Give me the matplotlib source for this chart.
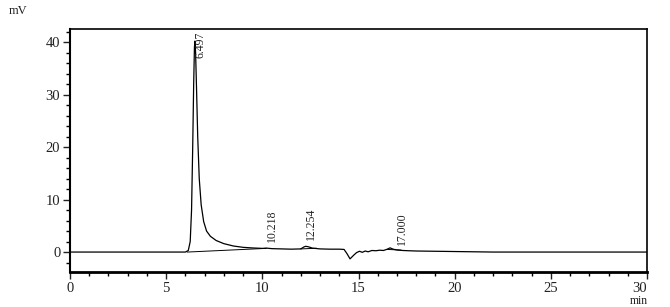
import matplotlib
matplotlib.use("Agg")
import matplotlib.pyplot as plt
from matplotlib.ticker import MultipleLocator

# Chromatogram signal (time in min, signal in mV)
time_min = [0.0, 6.0, 6.15, 6.25, 6.32, 6.38, 6.43, 6.47, 6.497, 6.53, 6.58,
            6.64, 6.72, 6.82, 6.95, 7.1, 7.3, 7.6, 8.0, 8.5, 9.0, 9.5, 10.0,
            10.218, 10.5, 11.0, 11.5, 12.0, 12.15, 12.254, 12.4, 12.6, 13.0,
            13.5, 14.0, 14.25, 14.4, 14.56, 14.75, 14.9, 15.05, 15.2, 15.35,
            15.5, 15.7, 15.9, 16.1, 16.3, 16.5, 16.64, 16.8, 17.0, 17.3, 17.6,
            18.0, 19.0, 20.0, 21.0, 22.0, 30.0]
signal_mv = [0.0, 0.0, 0.3, 2.0, 8.0, 20.0, 32.0, 39.0, 40.2, 38.0, 31.0,
             22.0, 14.0, 9.0, 5.8, 4.0, 3.0, 2.2, 1.6, 1.15, 0.9, 0.78, 0.7,
             0.75, 0.65, 0.6, 0.55, 0.6, 0.95, 1.1, 1.0, 0.75, 0.6,
             0.55, 0.55, 0.5, -0.3, -1.3, -0.6, -0.1, 0.15, -0.05, 0.2,
             0.05, 0.3, 0.25, 0.35, 0.3, 0.55, 0.8, 0.55, 0.4, 0.3, 0.25,
             0.2, 0.15, 0.1, 0.05, 0.0, 0.0]

# Integration baselines (start/end points)
base_t = [[6.1, 10.2], [12.0, 12.8], [16.5, 17.2]]
base_v = [[0.0, 0.7], [0.6, 0.72], [0.5, 0.38]]

# Peak labels
peak_rt = [6.497, 10.218, 12.254, 17.000]
peak_labels = ["6.497", "10.218", "12.254", "17.000"]
label_top = [42.0, 8.1, 8.5, 7.6]

x_ticks = [0, 5, 10, 15, 20, 25, 30]
y_ticks = [0, 10, 20, 30, 40]

plt.rcParams['font.family'] = ['Liberation Serif', 'DejaVu Serif']

fig = plt.figure(figsize=(6.7, 3.07), dpi=100)
ax = fig.add_axes([70/670, 1-272/307, (647-70)/670, (272-29)/307])

ax.plot(time_min, signal_mv, color='black', linewidth=0.9)
for bt, bv in zip(base_t, base_v):
    ax.plot(bt, bv, color='black', linewidth=0.7)

for rt, lab, top in zip(peak_rt, peak_labels, label_top):
    ax.text(rt + 0.28, top, lab, rotation=90, fontsize=8.5,
            ha='center', va='top', color='#222222')

ax.set_xlim(0, 30)
ax.set_ylim(-3.8, 42.5)
ax.set_xticks(x_ticks)
ax.set_yticks(y_ticks)
ax.xaxis.set_minor_locator(MultipleLocator(1))
ax.yaxis.set_minor_locator(MultipleLocator(2))
ax.tick_params(axis='both', which='major', direction='out', length=5,
               width=1, labelsize=10.5, colors='#222222', pad=2)
ax.tick_params(axis='both', which='minor', direction='out', length=3, width=1)
ax.get_xticklabels()[-1].set_horizontalalignment('right')

for s in ['left', 'right', 'top']:
    ax.spines[s].set_linewidth(1.2)
ax.spines['bottom'].set_linewidth(2.0)
ax.spines['left'].set_linewidth(1.5)

fig.text(9/670, 1-11/307, "mV", fontsize=9, va='center', ha='left', color='#222222')
fig.text(648/670, 1-301/307, "min", fontsize=8.5, va='center', ha='right', color='#222222')

fig.savefig("out.png", dpi=100)
